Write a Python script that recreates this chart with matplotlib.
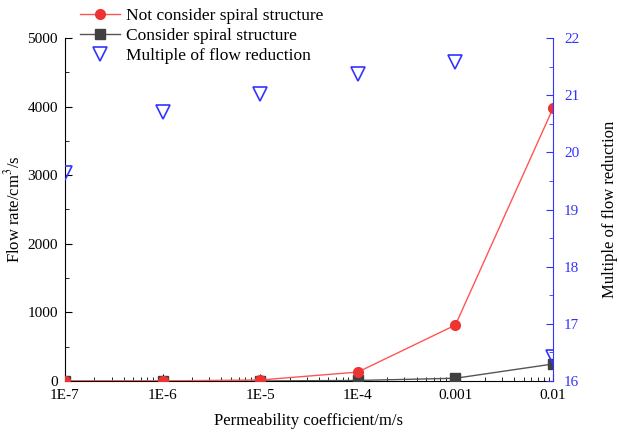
import matplotlib
matplotlib.use("Agg")
import matplotlib.pyplot as plt
import numpy as np

plt.rcParams['font.family'] = ['Liberation Serif', 'DejaVu Serif']
plt.rcParams['mathtext.fontset'] = 'stix'

# permeability coefficient (m/s)
perm = [1e-7, 1e-6, 1e-5, 1e-4, 1e-3, 1e-2]
perm_labels = ["1E-7", "1E-6", "1E-5", "1E-4", "0.001", "0.01"]
# flow rate cm3/s
flow_no_spiral = [0.5, 1.5, 15, 130, 815, 3975]
flow_spiral = [0.1, 0.2, 1, 8, 40, 248]
# multiple of flow reduction
reduction = [19.64, 20.70, 21.02, 21.37, 21.58, 16.42]

fig = plt.figure(figsize=(6.19, 4.32), dpi=100)
ax = fig.add_axes([65/619, 1-381/432, (553-65)/619, (381-38)/432])
ax2 = ax.twinx()

l2, = ax.plot(perm, flow_spiral, color="#555555", lw=1, marker="s", ms=7,
              mfc="#404040", mec="#404040", zorder=3)
l1, = ax.plot(perm, flow_no_spiral, color="#ff5555", lw=1, marker="o", ms=7,
              mfc="#ee3333", mec="#ee3333", zorder=4)
l3, = ax2.plot(perm, reduction, ls="none", marker="v", ms=10, mfc="none",
               mec="#3333ff", mew=1.2)

ax.set_xscale("log")
ax.set_xlim(1e-7, 1e-2)
ax.set_xticks(perm)
ax.set_xticklabels(perm_labels)
ax.set_ylim(0, 5000)
ax.set_yticks([0, 1000, 2000, 3000, 4000, 5000])
ax.set_yticks(np.arange(500, 5000, 1000), minor=True)
ax2.set_ylim(16, 22)
ax2.set_yticks([16, 17, 18, 19, 20, 21, 22])
ax2.set_yticks(np.arange(16.5, 22, 1), minor=True)

ax.tick_params(axis="both", which="both", direction="in", labelsize=11)
ax.tick_params(which="major", length=5)
ax.tick_params(which="minor", length=3)
ax.tick_params(axis="x", which="both", pad=6)
ax.tick_params(axis="y", which="both", pad=5)
ax2.tick_params(axis="y", which="both", direction="in", colors="#3333ff",
                labelsize=11, pad=8)
ax2.tick_params(which="major", length=5)
ax2.tick_params(which="minor", length=3)

ax.spines["top"].set_visible(False)
ax2.spines["top"].set_visible(False)
ax2.spines["left"].set_visible(False)
ax2.spines["bottom"].set_visible(False)
ax2.spines["right"].set_color("#3333ff")
ax.spines["right"].set_visible(False)

ax.set_xlabel("Permeability coefficient/m/s", fontsize=12, labelpad=8)
ax.set_ylabel("Flow rate/cm$^3$/s", fontsize=12, labelpad=3)
ax2.set_ylabel("Multiple of flow reduction", fontsize=12, labelpad=16)

fig.legend([l1, l2, l3],
           ["Not consider spiral structure", "Consider spiral structure",
            "Multiple of flow reduction"],
           loc="upper left", bbox_to_anchor=(70/619, 1.005), frameon=False,
           fontsize=12.5, handlelength=2.3, handletextpad=0.35,
           labelspacing=0.2, borderpad=0.1)

fig.savefig("out.png", dpi=100)
